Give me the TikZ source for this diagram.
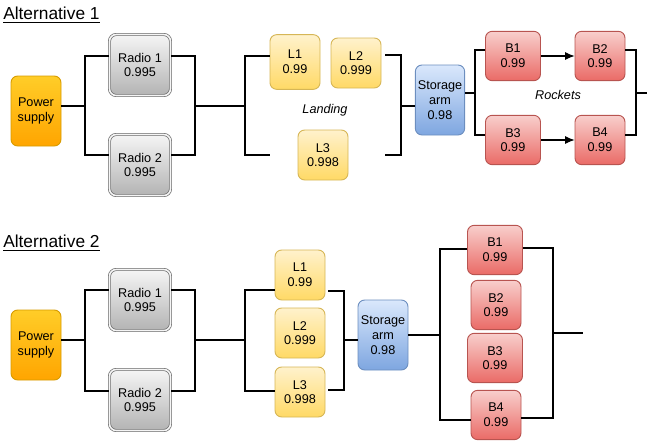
\documentclass[tikz,border=0pt]{standalone}
\usepackage{fontspec}
\setmainfont{Liberation Sans}
\usetikzlibrary{arrows.meta}

\definecolor{psTop}{HTML}{FFCD28}
\definecolor{psBot}{HTML}{FFA500}
\definecolor{psLine}{HTML}{D79B00}
\definecolor{raTop}{HTML}{F5F5F5}
\definecolor{raBot}{HTML}{B3B3B3}
\definecolor{raLine}{HTML}{666666}
\definecolor{laTop}{HTML}{FFF2CC}
\definecolor{laBot}{HTML}{FFD966}
\definecolor{laLine}{HTML}{D6B656}
\definecolor{saTop}{HTML}{DAE8FC}
\definecolor{saBot}{HTML}{7EA6E0}
\definecolor{saLine}{HTML}{6C8EBF}
\definecolor{roTop}{HTML}{F8CECC}
\definecolor{roBot}{HTML}{EA6B66}
\definecolor{roLine}{HTML}{B85450}

\tikzset{
  unitbox/.style={draw, rectangle, rounded corners=5pt, align=center,
    inner sep=1pt, line width=0.7pt, font={\fontsize{9.5}{11}\selectfont}},
  powerbox/.style={unitbox, top color=psTop, bottom color=psBot, draw=psLine,
    minimum width=37.5pt, minimum height=52.5pt},
  radiobox/.style={unitbox, top color=raTop, bottom color=raBot, draw=raLine,
    line width=0.5pt, double=raTop, double distance=1.2pt,
    minimum width=45.75pt, minimum height=45.75pt},
  landbox/.style={unitbox, top color=laTop, bottom color=laBot, draw=laLine,
    minimum width=37.5pt, minimum height=37.5pt},
  armbox/.style={unitbox, top color=saTop, bottom color=saBot, draw=saLine,
    minimum width=37pt, minimum height=52.5pt},
  rocketbox/.style={unitbox, top color=roTop, bottom color=roBot, draw=roLine,
    minimum width=37.5pt, minimum height=37pt},
  wire/.style={line width=1pt},
  alttitle/.style={anchor=west, inner sep=0pt, font={\fontsize{13}{15}\selectfont}},
  grouplabel/.style={font={\fontsize{9.5}{11}\selectfont\itshape}}
}

\begin{document}
\begin{tikzpicture}[x=0.75pt, y=-0.75pt]

\useasboundingbox (0,0) rectangle (647,443);

% Alternative 1
\node [alttitle] (title1) at (3,15) {\underline{Alternative 1}};

\node [powerbox] (ps1) at (36,111) {Power\\supply};
\node [radiobox] (ra1) at (140,65) {Radio 1\\0.995};
\node [radiobox] (ra2) at (140,165) {Radio 2\\0.995};

\node [landbox, minimum height=41pt] (la1) at (295,62) {L1\\0.99};
\node [landbox] (la2) at (356,63) {L2\\0.999};
\node [landbox] (la3) at (323,155) {L3\\0.998};
\node [grouplabel] (land1) at (325,110) {Landing};

\node [armbox] (sa1) at (440,100) {Storage\\arm\\0.98};

\node [rocketbox, minimum width=41.25pt] (bo1) at (513,56) {B1\\0.99};
\node [rocketbox] (bo2) at (600,56) {B2\\0.99};
\node [rocketbox, minimum width=41.25pt] (bo3) at (513,140) {B3\\0.99};
\node [rocketbox] (bo4) at (600,140) {B4\\0.99};
\node [grouplabel] (rock1) at (558,95) {Rockets};

\coordinate (ja1) at (85,106);
\coordinate (jb1) at (195,106);
\coordinate (jc1) at (245,106);
\coordinate (jc1e) at (270,155);
\coordinate (jd1) at (401,106);
\coordinate (jd1t) at (385,55);
\coordinate (jd1b) at (385,155);
\coordinate (je1) at (475,93);
\coordinate (jf1) at (636,93);
\coordinate (end1) at (647,93);

\draw [wire] (ps1.east |- ja1) -- (ja1);
\draw [wire] (ra1.west |- 0,56) -| (ja1) |- (ra2.west |- 0,155);
\draw [wire] (ra1.east |- 0,56) -| (jb1) |- (ra2.east |- 0,155);
\draw [wire] (jb1) -- (jc1);
\draw [wire] (la1.west |- 0,56) -| (jc1) |- (jc1e);
\draw [wire] (jd1t) -| (jd1) |- (jd1b);
\draw [wire] (jd1) -- (sa1.west |- jd1);
\draw [wire] (sa1.east |- je1) -- (je1);
\draw [wire] (bo1.west |- 0,50) -| (je1) |- (bo3.west |- 0,135);
\draw [line width=0.8pt, -{Latex[length=7pt, width=6pt]}] (bo1) -- (bo2);
\draw [line width=0.8pt, -{Latex[length=7pt, width=6pt]}] (bo3) -- (bo4);
\draw [wire] (bo2.east |- 0,50) -| (jf1) |- (bo4.east |- 0,135);
\draw [wire] (jf1) -- (end1);

% Alternative 2
\node [alttitle] (title2) at (3,243) {\underline{Alternative 2}};

\node [powerbox] (ps2) at (36,345) {Power\\supply};
\node [radiobox] (ra3) at (140,300) {Radio 1\\0.995};
\node [radiobox] (ra4) at (140,400) {Radio 2\\0.995};

\node [landbox] (la4) at (300,275) {L1\\0.99};
\node [landbox] (la5) at (300,333) {L2\\0.999};
\node [landbox] (la6) at (300,392) {L3\\0.998};

\node [armbox, minimum width=37.5pt] (sa2) at (383,335) {Storage\\arm\\0.98};

\node [rocketbox, minimum width=41.25pt] (bo5) at (495,250) {B1\\0.99};
\node [rocketbox] (bo6) at (496,305) {B2\\0.99};
\node [rocketbox, minimum width=41.25pt] (bo7) at (495,358) {B3\\0.99};
\node [rocketbox] (bo8) at (496,415) {B4\\0.99};

\coordinate (ja2) at (85,340);
\coordinate (jb2) at (195,340);
\coordinate (jc2) at (245,340);
\coordinate (jd2) at (344,340);
\coordinate (jd2t) at (328,291);
\coordinate (jd2b) at (328,390);
\coordinate (je2) at (440,335);
\coordinate (jf2) at (553,333);
\coordinate (end2) at (583,333);

\draw [wire] (ps2.east |- ja2) -- (ja2);
\draw [wire] (ra3.west |- 0,290) -| (ja2) |- (ra4.west |- 0,391);
\draw [wire] (ra3.east |- 0,290) -| (jb2) |- (ra4.east |- 0,391);
\draw [wire] (jb2) -- (jc2);
\draw [wire] (la4.west |- 0,290) -| (jc2) |- (la6.west |- 0,391);
\draw [wire] (jd2t) -| (jd2) |- (jd2b);
\draw [wire] (jd2) -- (sa2.west |- jd2);
\draw [wire] (sa2.east |- je2) -- (je2);
\draw [wire] (bo5.west |- 0,249) -| (je2) |- (bo8.west |- 0,420);
\draw [wire] (bo5.east |- 0,248) -| (jf2) |- (bo8.east |- 0,418);
\draw [wire] (jf2) -- (end2);

\end{tikzpicture}
\end{document}
